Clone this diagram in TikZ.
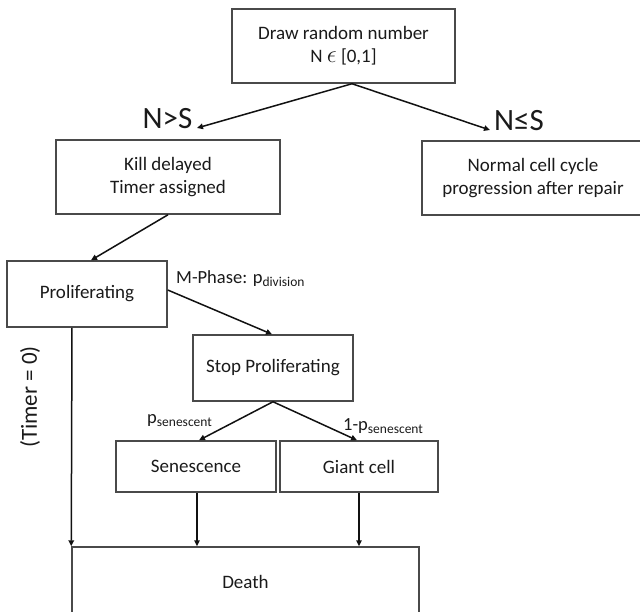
\documentclass[tikz,border=0pt]{standalone}
\usepackage{fontspec}
\setmainfont{Carlito}
\usetikzlibrary{arrows.meta}
\definecolor{boxc}{HTML}{4A4A4A}
\definecolor{txtc}{HTML}{1A1A1A}
\definecolor{arrc}{HTML}{111111}
\newcommand{\subs}[1]{\raisebox{-3pt}{\fontsize{13.5}{14}\selectfont #1}}
\begin{document}
\begin{tikzpicture}[x=1pt,y=-1pt,
  box/.style={draw=boxc, line width=1.5pt, inner sep=0pt, align=center,
    text=txtc, font=\fontsize{19}{23}\selectfont},
  arr/.style={draw=arrc, line width=1.5pt, -{Triangle[length=6pt,width=5.5pt]}},
  lbl/.style={inner sep=0pt, text=txtc, font=\fontsize{18.5}{20}\selectfont},
  big/.style={inner sep=0pt, text=txtc, font=\fontsize{31}{33}\selectfont}]
\useasboundingbox (0,0) rectangle (640,611);
\node[box, minimum width=223pt, minimum height=74pt] (top) at (343.5,46)
  {Draw random number\\N {\fontsize{25}{25}\selectfont$\epsilon$} [0,1]};
\node[box, minimum width=224pt, minimum height=74pt] (kill) at (168,177)
  {Kill delayed\\Timer assigned};
\node[box, minimum width=222pt, minimum height=74pt] (normal) at (533,178)
  {Normal cell cycle\\progression after repair};
\node[box, minimum width=160pt, minimum height=66pt] (prolif) at (87,294)
  {Proliferating};
\node[box, minimum width=160pt, minimum height=66pt] (stop) at (273,368)
  {Stop Proliferating};
\node[box, minimum width=160pt, minimum height=51pt] (sen) at (196,466.5)
  {Senescence};
\node[box, minimum width=158pt, minimum height=51pt] (giant) at (359,466.5)
  {Giant cell};
\node[box, minimum width=347pt, minimum height=70pt] (death) at (245.5,582)
  {Death};

\coordinate (nsL) at (197,128);
\coordinate (nsR) at (490,130);
\node[big, anchor=base] (lblL) at (167.5,128) {N>S};
\node[big, anchor=base] (lblR) at (519,130) {N≤S};

\draw[arr] ([xshift=8.5pt]top.south) -- (nsL);
\draw[arr] ([xshift=8.5pt]top.south) -- (nsR);
\draw[arr] (kill.south) -- ([xshift=4pt]prolif.north);
\draw[arr] ([yshift=4pt]prolif.east) -- ([xshift=-1pt]stop.north);
\draw[arr] (stop.south) -- ([xshift=3pt]sen.north);
\draw[arr] (stop.south) -- ([xshift=-2pt]giant.north);
\draw[arr] ([xshift=1pt]sen.south) -- ([xshift=1pt]sen.south |- death.north);
\draw[arr] (giant.south) -- (giant.south |- death.north);
\draw[arr] ([xshift=-15pt]prolif.south) -- (death.north west);

\node[lbl, anchor=base west] (mph) at (176,283) {M-Phase: p\subs{division}};
\node[lbl, anchor=base west] (psen) at (147,423) {p\subs{senescent}};
\node[lbl, anchor=base west] (ppsen) at (343,430) {1-p\subs{senescent}};
\node[inner sep=0pt, text=txtc, font=\fontsize{23}{25}\selectfont, rotate=90] (timer) at (30,397) {(Timer = 0)};
\end{tikzpicture}
\end{document}
